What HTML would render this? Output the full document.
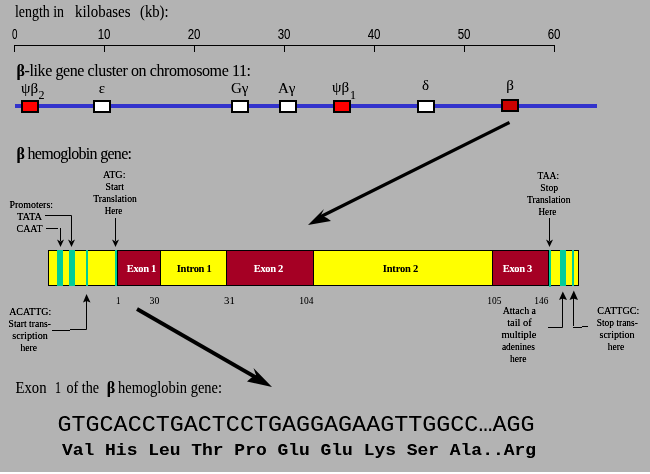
<!DOCTYPE html>
<html><head><meta charset="utf-8">
<style>
html,body{margin:0;padding:0;background:#b3b3b3;width:650px;height:474px;overflow:hidden}
svg{display:block;position:absolute;left:0;top:0}
.s{font-family:"Liberation Serif",serif}
.a{font-family:"Liberation Sans",sans-serif}
.m{font-family:"Liberation Mono",monospace}
text{filter:url(#soft)}
.sm text{filter:url(#crisp)}
</style></head><body>
<svg width="650" height="474" viewBox="0 0 650 474">
<defs>
<filter id="crisp" x="-10%" y="-30%" width="120%" height="160%" color-interpolation-filters="sRGB"><feComponentTransfer><feFuncA type="linear" slope="1.4"/></feComponentTransfer></filter>
<filter id="soft" x="-10%" y="-30%" width="120%" height="160%" color-interpolation-filters="sRGB"><feComponentTransfer><feFuncA type="linear" slope="1.1"/></feComponentTransfer></filter>
</defs>
<rect x="0" y="0" width="650" height="474" fill="#b3b3b3"/>
<rect x="0" y="472" width="650" height="2" fill="#ffffff"/>

<!-- top caption -->
<g class="s" font-size="16" fill="#000">
<text x="15" y="17" textLength="49" lengthAdjust="spacingAndGlyphs">length in</text>
<text x="75" y="17" textLength="55.5" lengthAdjust="spacingAndGlyphs">kilobases</text>
<text x="140" y="17" textLength="28.5" lengthAdjust="spacingAndGlyphs">(kb):</text>
</g>

<!-- ruler -->
<g class="a" font-size="14" fill="#000">
<text x="12" y="39" textLength="5.5" lengthAdjust="spacingAndGlyphs">0</text>
<text x="97.7" y="39" textLength="12.8" lengthAdjust="spacingAndGlyphs">10</text>
<text x="187.7" y="39" textLength="12.8" lengthAdjust="spacingAndGlyphs">20</text>
<text x="277.7" y="39" textLength="12.8" lengthAdjust="spacingAndGlyphs">30</text>
<text x="367.7" y="39" textLength="12.8" lengthAdjust="spacingAndGlyphs">40</text>
<text x="457.7" y="39" textLength="12.8" lengthAdjust="spacingAndGlyphs">50</text>
<text x="547.7" y="39" textLength="12.8" lengthAdjust="spacingAndGlyphs">60</text>
</g>
<g fill="#000">
<rect x="14" y="45" width="541" height="1"/>
<rect x="14" y="45" width="1" height="7"/>
<rect x="104" y="45" width="1" height="7"/>
<rect x="194" y="45" width="1" height="7"/>
<rect x="284" y="45" width="1" height="7"/>
<rect x="374" y="45" width="1" height="7"/>
<rect x="464" y="45" width="1" height="7"/>
<rect x="554" y="45" width="1" height="7"/>
</g>

<!-- cluster heading -->
<text class="s" x="16.5" y="76" font-size="16" textLength="234.5" lengthAdjust="spacing"><tspan font-weight="bold">β</tspan>-like gene cluster on chromosome 11:</text>

<!-- gene labels -->
<g class="s" font-size="15" fill="#000">
<text x="21" y="93">ψβ</text><text x="38.5" y="99.3" font-size="12">2</text>
<text x="102" y="93" text-anchor="middle">ε</text>
<text x="231" y="93">Gγ</text>
<text x="278" y="93">Aγ</text>
<text x="332" y="92">ψβ</text><text x="350" y="98.8" font-size="12">1</text>
<text x="425.5" y="90" text-anchor="middle">δ</text>
<text x="510" y="90" text-anchor="middle">β</text>
</g>

<!-- chromosome line -->
<rect x="15" y="104" width="582" height="4" fill="#3333cc"/>
<g stroke="#000" stroke-width="2">
<rect x="22" y="101" width="16" height="11" fill="#ff0000"/>
<rect x="94" y="101" width="16" height="11" fill="#ffffff"/>
<rect x="232" y="101" width="16" height="11" fill="#ffffff"/>
<rect x="280" y="101" width="16" height="11" fill="#ffffff"/>
<rect x="334" y="101" width="16" height="11" fill="#ff0000"/>
<rect x="418" y="101" width="16" height="11" fill="#ffffff"/>
<rect x="502" y="100" width="16" height="11" fill="#cc0000"/>
</g>

<!-- big arrow 1 -->
<g fill="#000">
<line x1="509.5" y1="122.5" x2="318" y2="218" stroke="#000" stroke-width="3.2" stroke-linecap="butt"/>
<polygon points="308,225 324,209 321,215 327,218 331,221"/>
</g>

<!-- hemoglobin heading -->
<text class="s" x="16.5" y="159" font-size="16" textLength="115.5" lengthAdjust="spacing"><tspan font-weight="bold">β</tspan> hemoglobin gene:</text>

<!-- gene bar -->
<rect x="48.5" y="250.5" width="530" height="35" fill="#ffff00" stroke="#000" stroke-width="1"/>
<rect x="117" y="250" width="44" height="36" fill="#a50024"/>
<rect x="226" y="250" width="88" height="36" fill="#a50024"/>
<rect x="492" y="250" width="57" height="36" fill="#a50024"/>
<g fill="#000">
<rect x="48" y="250" width="531" height="1"/>
<rect x="48" y="285" width="531" height="1"/>
<rect x="117" y="250" width="1" height="36"/>
<rect x="160" y="250" width="1" height="36"/>
<rect x="226" y="250" width="1" height="36"/>
<rect x="313" y="250" width="1" height="36"/>
<rect x="492" y="250" width="1" height="36"/>
<rect x="548" y="250" width="1" height="36"/>
</g>
<g fill="#00cc99">
<rect x="57" y="250" width="6" height="36"/>
<rect x="69" y="250" width="6" height="36"/>
<rect x="86" y="250" width="2" height="36"/>
<rect x="115" y="250" width="2" height="36"/>
<rect x="549" y="250" width="2" height="37"/>
<rect x="560" y="250" width="6" height="36"/>
<rect x="572" y="250" width="2" height="36"/>
</g>
<g class="s" font-size="10.5" font-weight="bold">
<text x="126.8" y="272" fill="#fff" textLength="29.5">Exon 1</text>
<text x="176.8" y="272" fill="#000" textLength="35">Intron 1</text>
<text x="253.8" y="272" fill="#fff" textLength="29.5">Exon 2</text>
<text x="382.8" y="272" fill="#000" textLength="35.5">Intron 2</text>
<text x="502.8" y="272" fill="#fff" textLength="29.5">Exon 3</text>
</g>

<!-- numbers under bar -->
<g class="s" font-size="10.5">
<text x="116" y="304" textLength="4.5" lengthAdjust="spacingAndGlyphs">1</text>
<text x="149.5" y="304" textLength="9.8" lengthAdjust="spacingAndGlyphs">30</text>
<text x="224" y="304" textLength="10.8" lengthAdjust="spacingAndGlyphs">31</text>
<text x="299.3" y="304" textLength="14.2" lengthAdjust="spacingAndGlyphs">104</text>
<text x="487.3" y="304" textLength="14.2" lengthAdjust="spacingAndGlyphs">105</text>
<text x="534.3" y="304" textLength="14" lengthAdjust="spacingAndGlyphs">146</text>
</g>

<!-- small annotations -->
<g class="s sm" font-size="10">
<text x="9.5" y="208" textLength="43.5" lengthAdjust="spacingAndGlyphs">Promoters:</text>
<text x="17" y="220" textLength="25" lengthAdjust="spacingAndGlyphs">TATA</text>
<text x="16.5" y="232" textLength="26" lengthAdjust="spacingAndGlyphs">CAAT</text>
<text x="103" y="178" textLength="22.5" lengthAdjust="spacingAndGlyphs">ATG:</text>
<text x="105.5" y="190" textLength="18.5" lengthAdjust="spacingAndGlyphs">Start</text>
<text x="93.3" y="202" textLength="43.5" lengthAdjust="spacingAndGlyphs">Translation</text>
<text x="104.8" y="214" textLength="17.5" lengthAdjust="spacingAndGlyphs">Here</text>
<text x="537.6" y="179" textLength="21.5" lengthAdjust="spacingAndGlyphs">TAA:</text>
<text x="540.3" y="191" textLength="17.8" lengthAdjust="spacingAndGlyphs">Stop</text>
<text x="527" y="203" textLength="43.5" lengthAdjust="spacingAndGlyphs">Translation</text>
<text x="538.5" y="215" textLength="17.8" lengthAdjust="spacingAndGlyphs">Here</text>
<text x="9.2" y="315" textLength="42" lengthAdjust="spacingAndGlyphs">ACATTG:</text>
<text x="8.6" y="327" textLength="42.3" lengthAdjust="spacingAndGlyphs">Start trans-</text>
<text x="12.3" y="339" textLength="35.5" lengthAdjust="spacingAndGlyphs">scription</text>
<text x="20.5" y="351" textLength="16.5" lengthAdjust="spacingAndGlyphs">here</text>
<text x="502.7" y="314" textLength="33.3" lengthAdjust="spacingAndGlyphs">Attach a</text>
<text x="507.2" y="326" textLength="24.5" lengthAdjust="spacingAndGlyphs">tail of</text>
<text x="501.5" y="338" textLength="34.8" lengthAdjust="spacingAndGlyphs">multiple</text>
<text x="501.9" y="350" textLength="33" lengthAdjust="spacingAndGlyphs">adenines</text>
<text x="509.9" y="362" textLength="16.5" lengthAdjust="spacingAndGlyphs">here</text>
<text x="597.3" y="313.5" textLength="42" lengthAdjust="spacingAndGlyphs">CATTGC:</text>
<text x="596.7" y="325.5" textLength="41.2" lengthAdjust="spacingAndGlyphs">Stop trans-</text>
<text x="599.5" y="337.5" textLength="35" lengthAdjust="spacingAndGlyphs">scription</text>
<text x="607.7" y="350" textLength="16.5" lengthAdjust="spacingAndGlyphs">here</text>
</g>

<!-- thin arrows -->
<g stroke="#000" stroke-width="1" fill="none">
<polyline points="45,215.5 71.5,215.5 71.5,241"/>
<polyline points="46,228.5 58,228.5"/>
<polyline points="60.5,228 60.5,241"/>
<polyline points="115.5,218 115.5,241"/>
<polyline points="549.5,218 549.5,241"/>
<polyline points="52,330.5 70,330.5"/>
<polyline points="70,329.5 86.5,329.5 86.5,299"/>
<polyline points="548,327.5 562.5,327.5 562.5,297"/>
<polyline points="573.5,326 573.5,297"/>
<polyline points="573,327.5 582,327.5"/>
<polyline points="582,326.5 588,326.5"/>
</g>
<g fill="#000">
<polygon points="57,239.5 60.5,247 64,239.5 60.5,241.5"/>
<polygon points="68,239.5 71.5,247 75,239.5 71.5,241.5"/>
<polygon points="112,239.5 115.5,247 119,239.5 115.5,241.5"/>
<polygon points="546,239.5 549.5,247 553,239.5 549.5,241.5"/>
<polygon points="83,302.5 86.5,294 90.5,302.5 86.5,301"/>
<polygon points="559,300 562.8,291.5 567,300 562.5,298.5"/>
<polygon points="569.5,300 573.8,290.5 578,300 573.5,298.5"/>
</g>

<!-- big arrow 2 -->
<g fill="#000">
<line x1="137" y1="309" x2="262" y2="381" stroke="#000" stroke-width="3.8" stroke-linecap="butt"/>
<polygon points="272,387 253.5,368 256,375 251,378 247,381.5"/>
</g>

<!-- exon 1 caption -->
<g class="s" font-size="16">
<text x="15.5" y="393" textLength="31" lengthAdjust="spacingAndGlyphs">Exon</text>
<text x="55" y="393" textLength="6" lengthAdjust="spacingAndGlyphs">1</text>
<text x="66.5" y="393" textLength="32.5" lengthAdjust="spacingAndGlyphs">of the</text>
<text x="106.8" y="393" font-weight="bold" textLength="8.5" lengthAdjust="spacingAndGlyphs">β</text>
<text x="118" y="393" textLength="104" lengthAdjust="spacingAndGlyphs">hemoglobin gene:</text>
</g>

<!-- sequences -->
<text class="m" x="57.5" y="431" font-size="22" textLength="477" lengthAdjust="spacingAndGlyphs">GTGCACCTGACTCCTGAGGAGAAGTTGGCC…AGG</text>
<text class="m" x="62" y="455" font-size="16.7" font-weight="bold" textLength="474" lengthAdjust="spacingAndGlyphs">Val His Leu Thr Pro Glu Glu Lys Ser Ala..Arg</text>
</svg>
</body></html>
